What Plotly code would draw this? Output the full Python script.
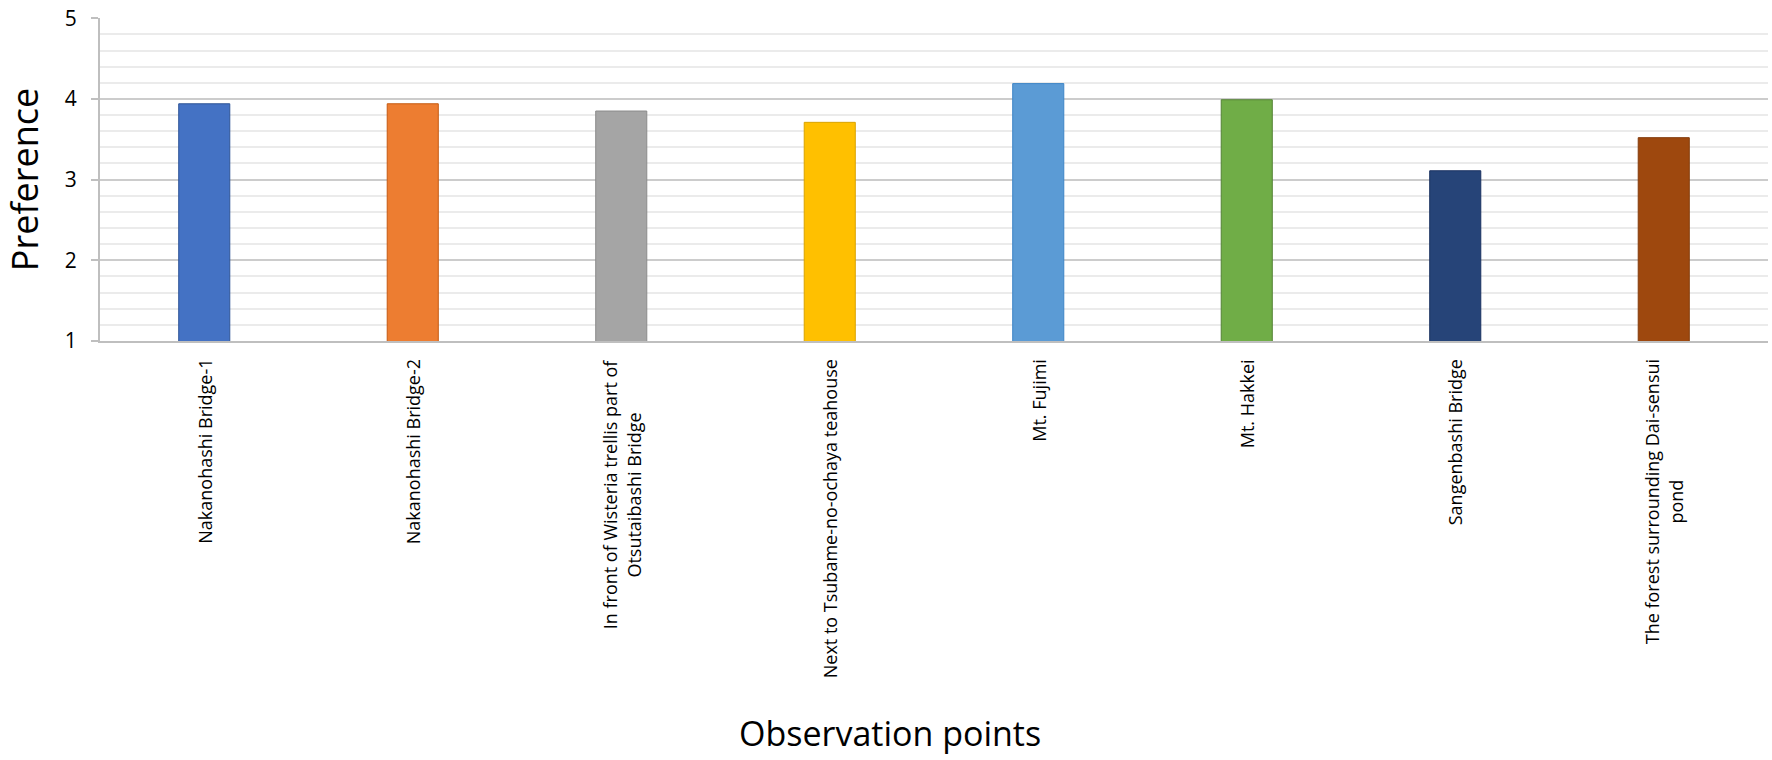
import plotly.graph_objects as go

categories = [
    "Nakanohashi Bridge-1",
    "Nakanohashi Bridge-2",
    "In front of Wisteria trellis part of<br>Otsutaibashi Bridge",
    "Next to Tsubame-no-ochaya teahouse",
    "Mt. Fujimi",
    "Mt. Hakkei",
    "Sangenbashi Bridge",
    "The forest surrounding Dai-sensui<br>pond",
]
values = [3.94, 3.94, 3.85, 3.71, 4.19, 3.99, 3.11, 3.52]
colors = ["#4472C4", "#ED7D31", "#A5A5A5", "#FFC000", "#5B9BD5", "#70AD47", "#264478", "#9E480E"]
edge_colors = ["#2F5597", "#C55A11", "#8C8C8C", "#D9A300", "#3E85C6", "#548235", "#1A3160", "#843C0C"]
y_ticks = [1, 2, 3, 4, 5]

FONT = "Open Sans"

fig = go.Figure()
fig.add_trace(go.Bar(
    x=categories, y=values,
    marker=dict(color=colors, line=dict(color=edge_colors, width=1)),
    width=0.245,
))

for c in categories:
    fig.add_annotation(
        x=c, xref="x", y=0, yref="paper", yanchor="top", xanchor="center",
        yshift=-16, text=c, textangle=-90, showarrow=False, align="center",
        font=dict(family=FONT, size=18, color="#000000"),
    )

fig.add_annotation(
    x=0.4736, xref="paper", y=-1.215, yref="paper", yanchor="middle", xanchor="center",
    text="Observation points", showarrow=False,
    font=dict(family=FONT, size=34, color="#000000"),
)

fig.update_layout(
    width=1772, height=760,
    margin=dict(l=100, r=4, t=12, b=419),
    paper_bgcolor="white", plot_bgcolor="white",
    showlegend=False,
    font=dict(family=FONT, color="#000000"),
    xaxis=dict(
        showticklabels=False, showline=True, linecolor="#BFBFBF", linewidth=2,
        ticks="", showgrid=False, range=[-0.5, 7.5],
    ),
    yaxis=dict(
        range=[1, 5.003], tickvals=y_ticks, ticks="outside", ticklen=7, tickwidth=2,
        tickcolor="#BFBFBF", showline=True, linecolor="#BFBFBF", linewidth=2,
        gridcolor="#CCCCCC", gridwidth=2, zeroline=False,
        tickfont=dict(family=FONT, size=21, color="#000000"),
        ticklabelstandoff=10, ticklabeloverflow="allow",
        minor=dict(dtick=0.2, showgrid=True, gridcolor="#EBEBEB", gridwidth=2, ticks=""),
        title=dict(text="Preference", font=dict(family=FONT, size=36, color="#000000"), standoff=18),
    ),
)

fig.write_html("out.html", config={"displayModeBar": False},
               post_script="document.body.style.margin='0';")
